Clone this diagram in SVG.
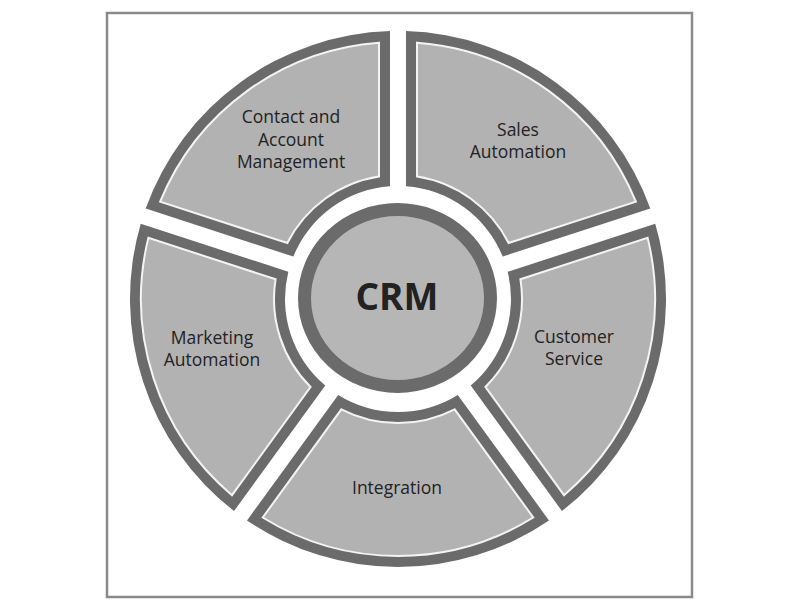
<svg xmlns="http://www.w3.org/2000/svg" xmlns:xlink="http://www.w3.org/1999/xlink" width="800" height="600" viewBox="0 0 800 600">
<style>
.frame{fill:#fff;stroke:#8a8a8a;stroke-width:2.5}
.segOut{fill:#6b6b6b}
.segIn{fill:#b2b2b2;stroke:#f4f4f4;stroke-width:2}
.lbl{font-family:"Open Sans","Noto Sans","Liberation Sans",sans-serif;font-size:17.5px;font-weight:500;fill:#222;text-anchor:middle}
.core{fill:#b6b6b6;stroke:#6b6b6b;stroke-width:13}
.coreTxt{font-family:"Open Sans","Noto Sans","Liberation Sans",sans-serif;font-size:37px;font-weight:bold;fill:#222;text-anchor:middle}
</style>
<defs>
<g id="seg">
<path class="segOut" d="M 221.43 -150.98 A 268 268 0 0 1 221.43 150.98 L 95.89 59.78 A 113 113 0 0 0 95.89 -59.78 Z"/>
<path class="segIn" d="M 218.52 -135.28 A 257 257 0 0 1 218.52 135.28 L 110.30 56.65 A 124 124 0 0 0 110.30 -56.65 Z"/>
</g>
</defs>
<rect class="frame" x="107" y="13" width="585" height="584"/>
<g id="contact">
<use xlink:href="#seg" href="#seg" transform="translate(398 299) rotate(234)"/>
<text class="lbl" x="291" y="123">Contact and</text>
<text class="lbl" x="291" y="146">Account</text>
<text class="lbl" x="291" y="168">Management</text>
</g>
<g id="sales">
<use xlink:href="#seg" href="#seg" transform="translate(398 299) rotate(-54)"/>
<text class="lbl" x="518" y="136">Sales</text>
<text class="lbl" x="518" y="158">Automation</text>
</g>
<g id="customer">
<use xlink:href="#seg" href="#seg" transform="translate(398 299) rotate(18)"/>
<text class="lbl" x="574" y="343">Customer</text>
<text class="lbl" x="574" y="365">Service</text>
</g>
<g id="integration">
<use xlink:href="#seg" href="#seg" transform="translate(398 299) rotate(90)"/>
<text class="lbl" x="397" y="494">Integration</text>
</g>
<g id="marketing">
<use xlink:href="#seg" href="#seg" transform="translate(398 299) rotate(162)"/>
<text class="lbl" x="212" y="344">Marketing</text>
<text class="lbl" x="212" y="366">Automation</text>
</g>
<g id="crm">
<ellipse class="core" cx="397.5" cy="298" rx="93" ry="88.5"/>
<text class="coreTxt" x="397" y="310">CRM</text>
</g>
</svg>
